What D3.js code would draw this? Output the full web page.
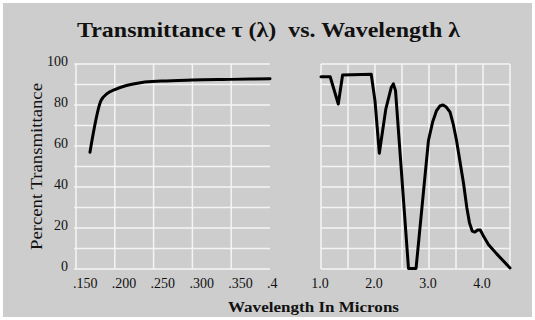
<!DOCTYPE html>
<html>
<head>
<meta charset="UTF-8">
<title>Transmittance vs Wavelength</title>
<script src="https://cdn.jsdelivr.net/npm/d3@7/dist/d3.min.js"></script>
<style>
  body { margin: 0; background: #fff; }
  svg text { font-family: "Liberation Serif", "DejaVu Serif", serif; fill: #111; }
  .grid line { stroke: #f4f4f4; stroke-width: 1.5; }
  .tick-label { font-size: 14px; }
  .title { font-size: 21px; font-weight: bold; }
  .axis-title { font-size: 15px; font-weight: bold; }
  .y-title { font-size: 16px; }
  .curve { fill: none; stroke: #000; stroke-width: 3; stroke-linejoin: round; stroke-linecap: round; }
</style>
</head>
<body>
<div id="chart"></div>
<script>
// y axis (shared by both panels)
const yTicks = [0, 20, 40, 60, 80, 100];
const yGrid = [0, 10, 20, 30, 40, 50, 60, 70, 80, 90, 100];

// left panel: ultraviolet range
const uvTicks = [0.15, 0.2, 0.25, 0.3, 0.35, 0.4];
const uvLabels = [".150", ".200", ".250", ".300", ".350", ".4"];
const uvGrid = [0.15, 0.2, 0.25, 0.3, 0.35];
const uvWave  = [0.168, 0.182, 0.190, 0.200, 0.215, 0.235, 0.260, 0.300, 0.350, 0.400];
const uvTrans = [57,    82,    85.5,  87.5,  89.5,  91,    91.7,  92.2,  92.5,  92.8];

// right panel: infrared range
const irTicks = [1, 2, 3, 4];
const irLabels = ["1.0", "2.0", "3.0", "4.0"];
const irGrid = [1, 1.5, 2, 2.5, 3, 3.5, 4, 4.5];
const irWave  = [1.0, 1.17, 1.32, 1.40, 1.93, 2.00, 2.08, 2.20, 2.30, 2.34, 2.38, 2.62, 2.76, 2.99, 3.07, 3.14, 3.20, 3.26, 3.32, 3.39, 3.45, 3.51, 3.64, 3.70, 3.75, 3.80, 3.85, 3.90, 3.95, 4.00, 4.10, 4.25, 4.50];
const irTrans = [93.8, 93.8, 80.5, 94.6, 95,   82,   56.5, 78,   88.5, 90.3, 87,   0.3,  0.3,  62.7, 72,   77.3, 79.5, 80,   79,   76.5, 70.5, 62.7, 41.7, 30,   22.5, 18.5, 18,   19,   19,   16.5, 12,   7.5,  0.5];

const W = 535, H = 320;
const svg = d3.select("#chart").append("svg")
  .attr("width", W).attr("height", H);

svg.append("rect").attr("x", 3).attr("y", 3)
  .attr("width", W - 6).attr("height", H - 6)
  .attr("fill", "#cdcdcd");

const y = d3.scaleLinear().domain([0, 100]).range([269, 64]);
const xUV = d3.scaleLinear().domain([0.15, 0.4]).range([76, 270]);
const xIR = d3.scaleLinear().domain([1, 4.5]).range([321, 510]);

function panel(x, vGrid, ticks, labels, anchor, dx, wave, trans, x0, x1) {
  const g = svg.append("g").attr("class", "grid");
  g.selectAll(".h").data(yGrid).enter().append("line")
    .attr("x1", x0).attr("x2", x1)
    .attr("y1", d => y(d)).attr("y2", d => y(d));
  g.selectAll(".v").data(vGrid).enter().append("line")
    .attr("x1", d => x(d)).attr("x2", d => x(d))
    .attr("y1", y(0)).attr("y2", y(100));

  svg.append("g").selectAll("text").data(ticks).enter().append("text")
    .attr("class", "tick-label")
    .attr("x", d => x(d) + dx).attr("y", 288)
    .attr("text-anchor", anchor)
    .text((d, i) => labels[i]);

  const pts = wave.map((w, i) => [w, trans[i]]);
  svg.append("path").datum(pts).attr("class", "curve")
    .attr("d", d3.line().x(d => x(d[0])).y(d => y(d[1])).curve(anchor === "start" ? d3.curveMonotoneX : d3.curveLinear));
}

panel(xUV, uvGrid, uvTicks, uvLabels, "start", -3, uvWave, uvTrans, 74, 270);
panel(xIR, irGrid, irTicks, irLabels, "middle", -1, irWave, irTrans, 321, 510);

// y tick labels
svg.append("g").selectAll("text").data(yTicks).enter().append("text")
  .attr("class", "tick-label")
  .attr("x", 68).attr("y", d => y(d) + 2)
  .attr("text-anchor", "end")
  .text(d => d);

// titles
svg.append("text").attr("class", "title")
  .attr("x", 77).attr("y", 37)
  .attr("textLength", 383).attr("lengthAdjust", "spacingAndGlyphs")
  .text("Transmittance \u03c4 (\u03bb)\u00a0\u00a0vs. Wavelength \u03bb");

svg.append("text").attr("class", "axis-title")
  .attr("x", 228).attr("y", 312)
  .attr("textLength", 171).attr("lengthAdjust", "spacingAndGlyphs")
  .text("Wavelength In Microns");

svg.append("text").attr("class", "y-title")
  .attr("transform", "translate(42,250) rotate(-90)")
  .attr("textLength", 167).attr("lengthAdjust", "spacingAndGlyphs")
  .text("Percent Transmittance");
</script>
</body>
</html>
